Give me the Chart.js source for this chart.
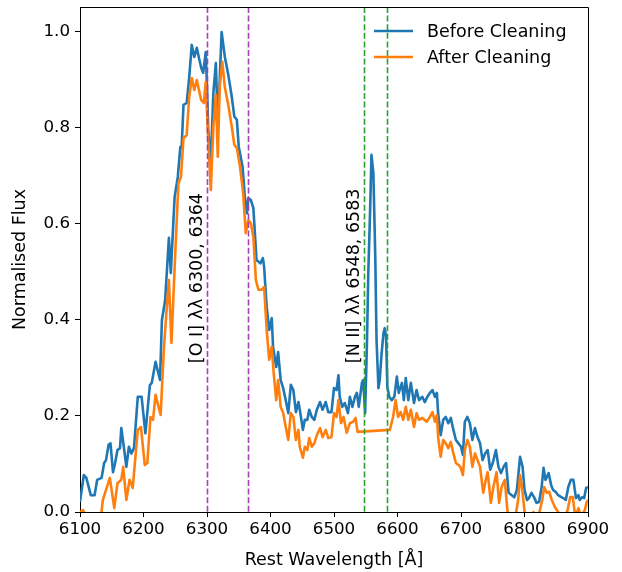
<!DOCTYPE html>
<html>
<head>
<meta charset="utf-8">
<script src="https://cdn.jsdelivr.net/npm/chart.js@4.4.1/dist/chart.umd.min.js"></script>
<style>
  html, body { margin: 0; padding: 0; background: #fff; }
  canvas { display: block; }
</style>
</head>
<body>
<canvas id="spectrum" width="622" height="572"></canvas>
<script>
// Spectrum (rest wavelength in Å, normalised flux)
const waveBefore = [
    6100, 6106, 6110, 6117, 6123, 6127, 6134, 6138, 6141, 6145,
    6148, 6152, 6155, 6159, 6163, 6165, 6169, 6173, 6177, 6181,
    6185, 6191, 6197, 6203, 6210, 6213, 6219, 6226, 6229, 6234,
    6240, 6243, 6249, 6254, 6258, 6260, 6263, 6268, 6272, 6276,
    6280, 6284, 6287, 6291, 6294, 6298, 6300, 6302, 6306, 6310,
    6314, 6317, 6320, 6323, 6328, 6334, 6339, 6343, 6347, 6350,
    6356, 6360, 6363, 6365, 6369, 6373, 6378, 6384, 6388, 6390,
    6394, 6398, 6402, 6404, 6409, 6412, 6416, 6420, 6424, 6428,
    6432, 6436, 6440, 6444, 6447, 6451, 6454, 6458, 6461, 6465,
    6469, 6473, 6478, 6482, 6487, 6491, 6496, 6500, 6504, 6507,
    6509, 6513, 6517, 6522, 6525, 6529, 6533, 6536, 6539, 6544,
    6546, 6549, 6552, 6554, 6557, 6559, 6562, 6565, 6567, 6570,
    6572, 6575, 6578, 6580, 6582, 6584, 6587, 6591, 6595, 6599,
    6602, 6607, 6610, 6613, 6617, 6621, 6626, 6630, 6634, 6639,
    6643, 6647, 6651, 6655, 6659, 6662, 6664, 6668, 6672, 6676,
    6680, 6684, 6688, 6692, 6696, 6700, 6703, 6706, 6710, 6714,
    6718, 6722, 6726, 6730, 6734, 6738, 6742, 6746, 6750, 6755,
    6759, 6763, 6767, 6771, 6775, 6780, 6784, 6788, 6793, 6797,
    6800, 6804, 6807, 6811, 6815, 6819, 6823, 6827, 6830, 6833,
    6838, 6842, 6845, 6849, 6853, 6858, 6861, 6865, 6869, 6873,
    6877, 6881, 6885, 6887, 6891, 6894, 6897, 6900
];
const fluxBefore = [
    0.021, 0.077, 0.071, 0.035, 0.035, 0.067, 0.071, 0.102, 0.108, 0.140,
    0.143, 0.083, 0.100, 0.129, 0.133, 0.175, 0.136, 0.094, 0.136, 0.122,
    0.133, 0.240, 0.240, 0.164, 0.264, 0.269, 0.313, 0.275, 0.400, 0.440,
    0.571, 0.498, 0.656, 0.698, 0.760, 0.758, 0.848, 0.852, 0.906, 0.973,
    0.948, 0.967, 0.948, 0.925, 0.915, 0.958, 0.885, 0.796, 0.730, 0.873,
    0.935, 0.800, 0.900, 1.000, 0.949, 0.907, 0.865, 0.824, 0.817, 0.761,
    0.719, 0.650, 0.622, 0.654, 0.650, 0.633, 0.525, 0.518, 0.529, 0.510,
    0.427, 0.379, 0.404, 0.344, 0.302, 0.333, 0.275, 0.258, 0.233, 0.206,
    0.265, 0.254, 0.208, 0.229, 0.206, 0.171, 0.192, 0.192, 0.213, 0.198,
    0.192, 0.213, 0.229, 0.213, 0.229, 0.208, 0.208, 0.258, 0.254, 0.285,
    0.240, 0.219, 0.227, 0.206, 0.240, 0.219, 0.240, 0.248, 0.219, 0.269,
    0.275, 0.206, 0.358, 0.498, 0.635, 0.744, 0.706, 0.531, 0.358, 0.258,
    0.275, 0.331, 0.373, 0.383, 0.365, 0.261, 0.240, 0.233, 0.240, 0.282,
    0.248, 0.269, 0.233, 0.279, 0.233, 0.269, 0.227, 0.254, 0.233, 0.240,
    0.229, 0.240, 0.248, 0.254, 0.240, 0.248, 0.206, 0.160, 0.192, 0.198,
    0.185, 0.196, 0.171, 0.150, 0.143, 0.136, 0.119, 0.188, 0.198, 0.185,
    0.150, 0.175, 0.156, 0.143, 0.108, 0.122, 0.129, 0.088, 0.102, 0.129,
    0.094, 0.081, 0.094, 0.102, 0.040, 0.035, 0.031, 0.046, 0.115, 0.094,
    0.046, 0.025, 0.029, 0.040, 0.031, 0.019, 0.021, 0.052, 0.092, 0.067,
    0.081, 0.056, 0.046, 0.042, 0.035, 0.031, 0.029, 0.025, 0.052, 0.067,
    0.067, 0.029, 0.035, 0.025, 0.031, 0.029, 0.050, 0.052
];
const waveAfter = [
    6100, 6105, 6113, 6125, 6133, 6136, 6141, 6147, 6154, 6159,
    6165, 6168, 6173, 6178, 6183, 6191, 6196, 6202, 6206, 6211,
    6215, 6219, 6227, 6232, 6236, 6240, 6244, 6250, 6255, 6259,
    6263, 6268, 6272, 6276, 6280, 6284, 6288, 6291, 6295, 6298,
    6301, 6306, 6310, 6314, 6317, 6320, 6324, 6328, 6334, 6339,
    6343, 6347, 6352, 6357, 6361, 6365, 6369, 6373, 6377, 6381,
    6386, 6390, 6394, 6398, 6402, 6405, 6409, 6412, 6416, 6420,
    6424, 6428, 6432, 6436, 6440, 6444, 6446, 6451, 6454, 6458,
    6461, 6465, 6469, 6473, 6478, 6482, 6487, 6491, 6496, 6500,
    6504, 6507, 6511, 6515, 6520, 6525, 6530, 6534, 6537, 6588,
    6593, 6597, 6601, 6605, 6609, 6613, 6617, 6621, 6626, 6630,
    6634, 6639, 6646, 6651, 6655, 6659, 6662, 6664, 6668, 6672,
    6676, 6680, 6684, 6688, 6692, 6696, 6699, 6703, 6706, 6710,
    6714, 6718, 6722, 6726, 6730, 6735, 6739, 6742, 6747, 6751,
    6756, 6760, 6764, 6769, 6773, 6777, 6783, 6790, 6793, 6796,
    6801, 6809, 6814, 6820, 6828, 6831, 6835, 6839, 6843, 6848,
    6853, 6859, 6868, 6872, 6876, 6880, 6885, 6889, 6895, 6898,
    6900
];
const fluxAfter = [
    0.000, 0.004, -0.020, -0.030, -0.010, 0.025, 0.046, 0.071, 0.008, 0.060,
    0.067, 0.094, 0.025, 0.067, 0.050, 0.171, 0.177, 0.098, 0.102, 0.198,
    0.192, 0.244, 0.202, 0.338, 0.414, 0.483, 0.352, 0.539, 0.685, 0.698,
    0.779, 0.785, 0.865, 0.904, 0.879, 0.900, 0.875, 0.858, 0.852, 0.896,
    0.802, 0.671, 0.802, 0.869, 0.740, 0.885, 0.938, 0.886, 0.844, 0.803,
    0.765, 0.758, 0.719, 0.664, 0.581, 0.608, 0.602, 0.573, 0.483, 0.463,
    0.463, 0.469, 0.379, 0.317, 0.344, 0.290, 0.233, 0.275, 0.219, 0.206,
    0.177, 0.150, 0.206, 0.198, 0.150, 0.171, 0.136, 0.113, 0.136, 0.129,
    0.154, 0.136, 0.143, 0.160, 0.175, 0.156, 0.171, 0.154, 0.156, 0.206,
    0.198, 0.233, 0.185, 0.198, 0.165, 0.185, 0.188, 0.196, 0.167, 0.171,
    0.198, 0.233, 0.198, 0.208, 0.192, 0.219, 0.192, 0.213, 0.177, 0.206,
    0.192, 0.196, 0.188, 0.198, 0.208, 0.188, 0.202, 0.156, 0.115, 0.150,
    0.143, 0.133, 0.146, 0.122, 0.102, 0.098, 0.094, 0.077, 0.129, 0.150,
    0.136, 0.094, 0.122, 0.108, 0.094, 0.040, 0.067, 0.083, 0.019, 0.052,
    0.083, 0.019, 0.052, 0.067, 0.004, -0.020, -0.030, 0.025, 0.077, 0.052,
    -0.010, -0.020, 0.000, -0.020, 0.025, 0.052, 0.040, 0.042, 0.025, 0.010,
    0.000, -0.020, 0.004, 0.031, 0.031, -0.010, 0.008, -0.010, 0.004, 0.021,
    0.025
];

const xTicks = [6100, 6200, 6300, 6400, 6500, 6600, 6700, 6800, 6900];
const yTicks = [0.0, 0.2, 0.4, 0.6, 0.8, 1.0];

// Emission lines marked on the plot
const oiLines = [6300, 6364];
const niiLines = [6548, 6583];
const lineLabels = ['[O I] λλ 6300, 6364', '[N II] λλ 6548, 6583'];
const labelFlux = 0.31;

const seriesNames = ['Before Cleaning', 'After Cleaning'];
const seriesColors = ['#1f77b4', '#ff7f0e'];

const FONT = 'DejaVu Sans';

function toPoints(xs, ys) {
    return xs.map((x, i) => ({ x: x, y: ys[i] }));
}

// Frame, marker lines, rotated labels and legend drawn on top of the data
const overlayPlugin = {
    id: 'overlay',
    afterDatasetsDraw(chart) {
        const { ctx, chartArea: a, scales: { x, y } } = chart;
        ctx.save();

        const dashed = (wl, color) => {
            const px = Math.round(x.getPixelForValue(wl)) + 0.5;
            ctx.beginPath();
            ctx.setLineDash([6, 2.6]);
            ctx.strokeStyle = color;
            ctx.lineWidth = 1.6;
            ctx.moveTo(px, a.top);
            ctx.lineTo(px, a.bottom);
            ctx.stroke();
        };
        oiLines.forEach(wl => dashed(wl, '#a63fb6'));
        niiLines.forEach(wl => dashed(wl, '#2ca02c'));
        ctx.setLineDash([]);

        // vertical text, reading upward, just left of the first line of each pair
        ctx.fillStyle = '#000';
        ctx.font = '17.5px "' + FONT + '"';
        ctx.textAlign = 'left';
        ctx.textBaseline = 'bottom';
        [oiLines[0], niiLines[0]].forEach((wl, i) => {
            ctx.save();
            ctx.translate(x.getPixelForValue(wl) - 1, y.getPixelForValue(labelFlux));
            ctx.rotate(-Math.PI / 2);
            ctx.fillText(lineLabels[i], 0, 0);
            ctx.restore();
        });

        // legend (no frame)
        ctx.font = '17.5px "' + FONT + '"';
        ctx.textBaseline = 'middle';
        seriesNames.forEach((name, i) => {
            const ly = a.top + 24 + i * 26;
            ctx.beginPath();
            ctx.strokeStyle = seriesColors[i];
            ctx.lineWidth = 2.6;
            ctx.moveTo(374, ly);
            ctx.lineTo(413, ly);
            ctx.stroke();
            ctx.fillStyle = '#000';
            ctx.fillText(name, 427, ly + 1);
        });

        // top and right spines
        ctx.beginPath();
        ctx.strokeStyle = '#000';
        ctx.lineWidth = 1;
        ctx.moveTo(a.left, a.top + 0.5);
        ctx.lineTo(a.right + 0.5, a.top + 0.5);
        ctx.lineTo(a.right + 0.5, a.bottom);
        ctx.stroke();
        ctx.restore();
    }
};

const ctx = document.getElementById('spectrum').getContext('2d');
new Chart(ctx, {
    type: 'line',
    data: {
        datasets: [{
            label: seriesNames[0],
            data: toPoints(waveBefore, fluxBefore),
            borderColor: seriesColors[0],
            borderWidth: 2.6,
            borderJoinStyle: 'round',
            pointRadius: 0,
            tension: 0,
            order: 2
        }, {
            label: seriesNames[1],
            data: toPoints(waveAfter, fluxAfter),
            borderColor: seriesColors[1],
            borderWidth: 2.6,
            borderJoinStyle: 'round',
            pointRadius: 0,
            tension: 0,
            order: 1
        }]
    },
    options: {
        responsive: false,
        animation: false,
        devicePixelRatio: 1,
        layout: { padding: { left: 0, top: 7, right: 34, bottom: 0 } },
        plugins: {
            legend: { display: false },
            tooltip: { enabled: false }
        },
        scales: {
            x: {
                type: 'linear',
                min: 6100,
                max: 6900,
                afterBuildTicks: scale => { scale.ticks = xTicks.map(v => ({ value: v })); },
                afterFit: scale => {
                    scale.height = 60;
                    scale.paddingLeft = 0;
                    scale.paddingRight = 0;
                },
                grid: { drawOnChartArea: false, tickLength: 5, color: '#000' },
                border: { color: '#000', width: 1 },
                ticks: {
                    color: '#000',
                    padding: 3,
                    maxRotation: 0,
                    font: { family: FONT, size: 16.7 },
                    callback: v => String(v)
                },
                title: {
                    display: true,
                    text: 'Rest Wavelength [Å]',
                    color: '#000',
                    font: { family: FONT, size: 17.5 },
                    padding: { bottom: 1 }
                }
            },
            y: {
                min: 0,
                max: 1.052,
                afterBuildTicks: scale => { scale.ticks = yTicks.map(v => ({ value: v })); },
                afterFit: scale => {
                    scale.width = 80;
                    scale.paddingTop = 0;
                    scale.paddingBottom = 0;
                },
                grid: { drawOnChartArea: false, tickLength: 5, color: '#000' },
                border: { color: '#000', width: 1 },
                ticks: {
                    color: '#000',
                    padding: 5,
                    font: { family: FONT, size: 16.7 },
                    callback: v => v.toFixed(1)
                },
                title: {
                    display: true,
                    text: 'Normalised Flux',
                    color: '#000',
                    font: { family: FONT, size: 17.5 },
                    padding: { top: 10 }
                }
            }
        }
    },
    plugins: [overlayPlugin]
});
</script>
</body>
</html>
